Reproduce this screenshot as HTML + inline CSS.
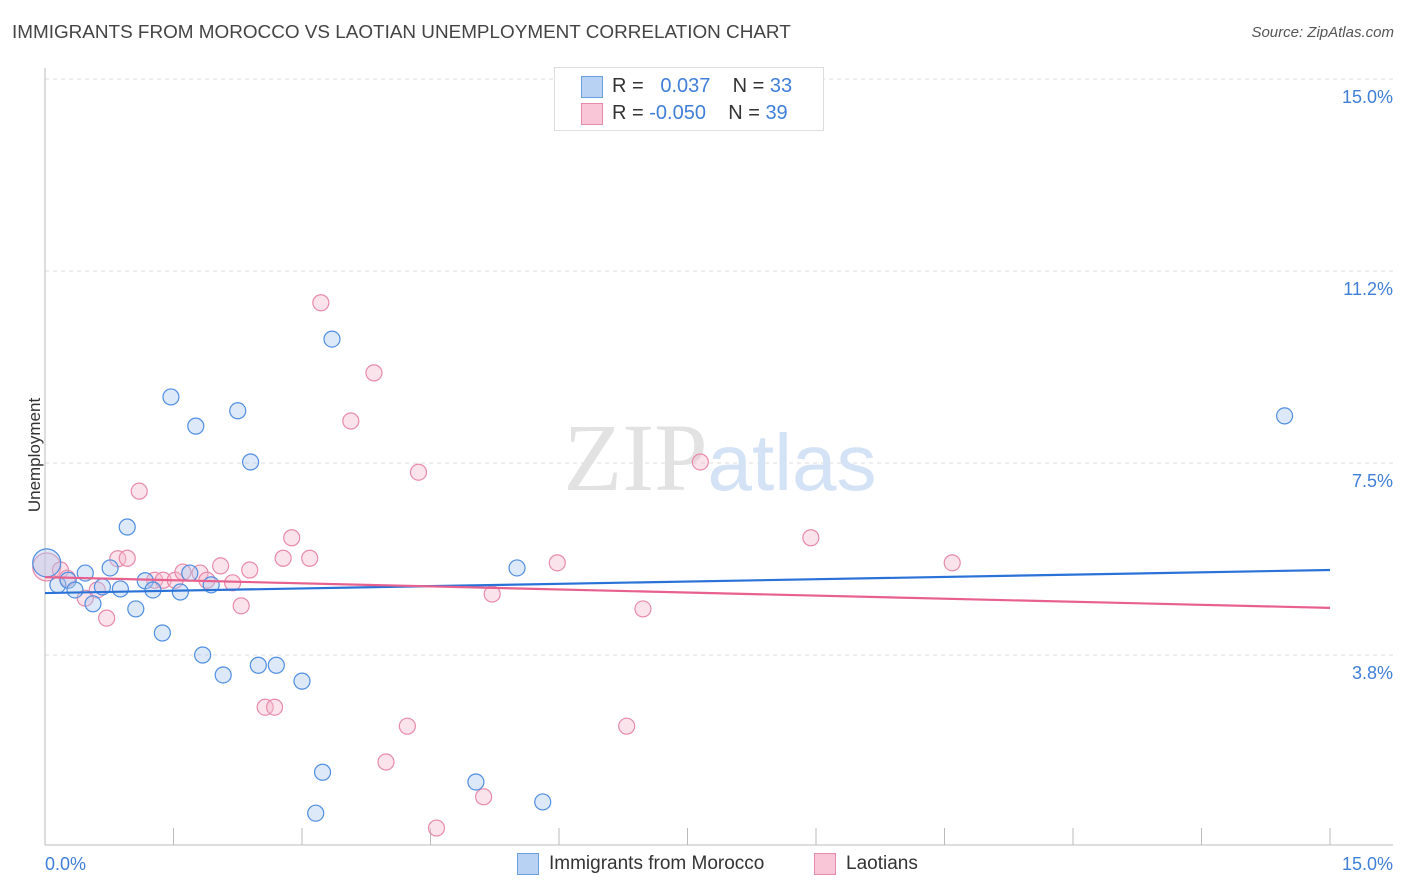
<!DOCTYPE html>
<html><head><meta charset="utf-8"><style>
body{margin:0;background:#fff;font-family:"Liberation Sans",sans-serif;}
#wrap{position:relative;width:1406px;height:892px;}
.t{position:absolute;white-space:nowrap;}
</style></head><body><div id="wrap">
<div class="t" style="left:12px;top:22px;font-size:18.9px;color:#444;">IMMIGRANTS FROM MOROCCO VS LAOTIAN UNEMPLOYMENT CORRELATION CHART</div>
<div class="t" style="right:12px;top:24px;font-size:15px;color:#555;font-style:italic;">Source: ZipAtlas.com</div>
<div class="t" style="left:-22px;top:445px;font-size:17px;color:#333;transform:rotate(-90deg);">Unemployment</div>
<svg id="plot" width="1406" height="892" style="position:absolute;left:0;top:0"></svg>
<div style="position:absolute;left:554px;top:67px;width:268px;height:62px;border:1px solid #ddd;background:#fff;font-size:20px;">
<div style="position:absolute;left:26px;top:8px;width:20px;height:20px;background:#b8d2f4;border:1px solid #6a9ee0;"></div>
<div class="t" style="left:57px;top:7px;color:#333;">R = &nbsp;&nbsp;<span style="color:#3f7fd8">0.037</span>&nbsp;&nbsp;&nbsp;&nbsp;N = <span style="color:#3f7fd8">33</span></div>
<div style="position:absolute;left:26px;top:35px;width:20px;height:20px;background:#f8c6d6;border:1px solid #e88aaa;"></div>
<div class="t" style="left:57px;top:34px;color:#333;">R = <span style="color:#3f7fd8">-0.050</span>&nbsp;&nbsp;&nbsp;&nbsp;N = <span style="color:#3f7fd8">39</span></div>
</div>
<div style="position:absolute;left:517px;top:853px;width:20px;height:20px;background:#b8d2f4;border:1px solid #6a9ee0;"></div>
<div class="t" style="left:549px;top:853px;font-size:19px;color:#333;">Immigrants from Morocco</div>
<div style="position:absolute;left:814px;top:853px;width:20px;height:20px;background:#f8c6d6;border:1px solid #e88aaa;"></div>
<div class="t" style="left:846px;top:853px;font-size:19px;color:#333;">Laotians</div>
</div>
<script>
const yTicks=[15.0,11.25,7.5,3.75];
const yTickLabels=["15.0%","11.2%","7.5%","3.8%"];
const xLabels=["0.0%","15.0%"];
const blueX=[0.02,0.15,0.27,0.35,0.47,0.56,0.67,0.76,0.88,0.96,1.06,1.17,1.26,1.37,1.47,1.58,1.69,1.76,1.84,1.94,2.08,2.25,2.40,2.49,2.70,3.00,3.16,3.24,3.35,5.03,5.51,5.81,14.47];
const blueY=[5.55,5.12,5.21,5.02,5.35,4.75,5.08,5.45,5.04,6.25,4.65,5.20,5.02,4.18,8.79,4.98,5.35,8.22,3.75,5.12,3.36,8.52,7.52,3.55,3.55,3.24,0.66,1.46,9.92,1.27,5.45,0.88,8.42];
const pinkX=[0.02,0.18,0.26,0.47,0.61,0.72,0.85,0.96,1.10,1.28,1.38,1.52,1.61,1.81,1.89,2.05,2.19,2.29,2.39,2.57,2.68,2.78,2.88,3.09,3.22,3.57,3.84,3.98,4.23,4.36,4.57,5.12,5.22,5.98,6.79,6.98,7.65,8.94,10.59];
const pinkY=[5.47,5.41,5.25,4.86,5.02,4.47,5.63,5.64,6.95,5.21,5.21,5.21,5.37,5.35,5.21,5.49,5.16,4.71,5.41,2.73,2.73,5.64,6.04,5.64,10.63,8.32,9.26,1.66,2.36,7.32,0.37,0.98,4.94,5.55,2.36,4.65,7.52,6.04,5.55];
const blueTrend=[4.96,5.41];
const pinkTrend=[5.27,4.67];
const NS="http://www.w3.org/2000/svg";
const svg=document.getElementById('plot');
const X=v=>45+v*(1285/15);
const Y=v=>847-v*51.2;
function mk(tag,a){const e=document.createElementNS(NS,tag);for(const k in a)e.setAttribute(k,a[k]);svg.appendChild(e);return e;}
yTicks.forEach((t,i)=>{
 const g=mk('line',{x1:45,x2:1393,y1:Y(t),y2:Y(t),stroke:'#ddd','stroke-dasharray':'4,4'});
 
 
 const tx=mk('text',{x:1393,y:Y(t)+24,'text-anchor':'end','font-size':18,fill:'#3f7fd8','font-family':'Liberation Sans'});
 tx.textContent=yTickLabels[i];
 
 
});
const wm=mk('text',{x:720,y:490,'text-anchor':'middle','font-size':96,'font-family':'Liberation Serif'});
wm.innerHTML='<tspan fill="#e2e2e2">ZIP</tspan><tspan fill="#d3e2f4" font-family="Liberation Sans" font-size="80">atlas</tspan>';


const ya=mk('line',{x1:45,x2:45,y1:68,y2:845,stroke:'#bbb'});


const xa=mk('line',{x1:45,x2:1393,y1:845,y2:845,stroke:'#bbb'});


for(let i=0;i<=10;i++){const tk=mk('line',{x1:X(i*1.5),x2:X(i*1.5),y1:828,y2:845,stroke:'#bbb'});
 
 }
[[xLabels[0],45,'start'],[xLabels[1],1393,'end']].forEach(([s,x,a])=>{const t=mk('text',{x:x,y:870,'text-anchor':a,'font-size':18,fill:'#3f7fd8','font-family':'Liberation Sans'});t.textContent=s;
 
 });
function pts(xs,ys,fill,stroke,name){xs.forEach((x,i)=>{const c=mk('circle',{cx:X(x),cy:Y(ys[i]),r:i===0?14:8,fill:fill,'fill-opacity':0.4,stroke:stroke,'stroke-width':1.2});
 
 });}
pts(pinkX,pinkY,'#f5b8cc','#e88aaa','laotians-point');
pts(blueX,blueY,'#aac8f0','#4f8ee0','morocco-point');
const bl=mk('line',{x1:X(0),x2:X(15),y1:Y(blueTrend[0]),y2:Y(blueTrend[1]),stroke:'#2a72d8','stroke-width':2.2});


const pl=mk('line',{x1:X(0),x2:X(15),y1:Y(pinkTrend[0]),y2:Y(pinkTrend[1]),stroke:'#e8608e','stroke-width':2.2});


</script></body></html>
